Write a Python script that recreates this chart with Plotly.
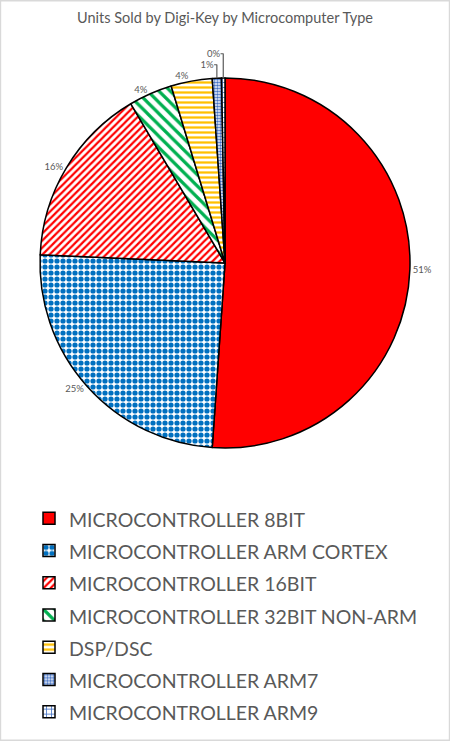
import plotly.graph_objects as go

# data (percent of units)
types = [
    "MICROCONTROLLER 8BIT",
    "MICROCONTROLLER ARM CORTEX",
    "MICROCONTROLLER 16BIT",
    "MICROCONTROLLER 32BIT NON-ARM",
    "DSP/DSC",
    "MICROCONTROLLER ARM7",
    "MICROCONTROLLER ARM9",
]
share = [51.1, 24.6, 15.8, 3.8, 3.6, 0.8, 0.3]

fg = ["#FF0000", "#0070C0", "#FF0000", "#00B050", "#FFC000", "#4472C4", "#4472C4"]
bg = ["#FF0000", "white", "white", "white", "white", "white", "white"]
shapes = ["", ".", "/", "\\", "-", ".", "+"]
sizes = [8, 6, 5, 8, 5, 3, 5]
solid = [0.3, 0.6, 0.45, 0.4, 0.45, 0.6, 0.3]

W, H = 450, 741
GRAY = "#595959"

legend_labels = ["<span style='font-size:19.5px'>%s</span>" % t for t in types]

fig = go.Figure(
    go.Pie(
        labels=legend_labels,
        values=share,
        sort=False,
        direction="clockwise",
        rotation=0,
        marker=dict(
            colors=bg,
            line=dict(color="black", width=1.5),
            pattern=dict(shape=shapes, fgcolor=fg, bgcolor=bg, size=sizes, solidity=solid),
        ),
        texttemplate="%{percent:.0%}",
        textposition="outside",
        textfont=dict(size=9.5, color=GRAY),
        hoverinfo="label+percent",
        domain=dict(x=[40 / W, 410 / W], y=[1 - 448 / H, 1 - 78 / H]),
    )
)

fig.update_layout(
    width=W,
    height=H,
    margin=dict(l=0, r=0, t=0, b=0),
    paper_bgcolor="white",
    font=dict(family="Lato, 'Open Sans', sans-serif", color=GRAY),
    title=dict(
        text="Units Sold by Digi-Key by Microcomputer Type",
        font=dict(size=14.5, color=GRAY),
        x=0.5,
        xanchor="center",
        y=1 - 18 / H,
        yanchor="middle",
    ),
    legend=dict(
        x=29 / W,
        xanchor="left",
        y=1 - 497 / H,
        yanchor="top",
        font=dict(size=22.5, color=GRAY),
        itemclick=False,
    ),
    shapes=[
        dict(type="rect", xref="paper", yref="paper", x0=0.001, x1=0.999, y0=0.001, y1=0.999,
             line=dict(color="#D9D9D9", width=1.5), layer="below"),
    ],
)

# the page body has an 8px default margin; drop it so the chart sits at the window's corner
fig.write_html(
    "out.html",
    config={"displayModeBar": False},
    post_script="document.body.style.margin='0';",
)
